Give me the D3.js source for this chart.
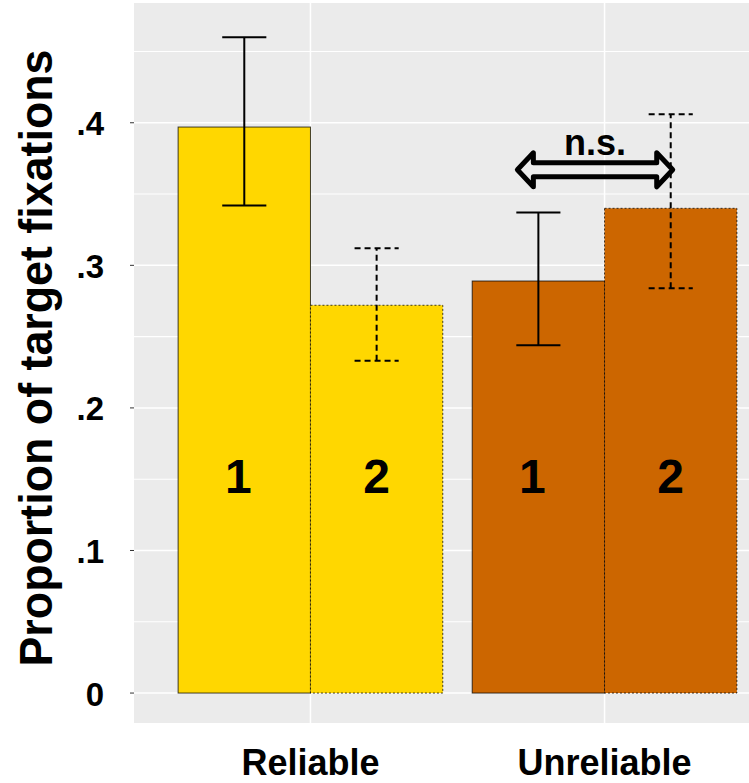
<!DOCTYPE html>
<html>
<head>
<meta charset="utf-8">
<script src="https://cdn.jsdelivr.net/npm/d3@7"></script>
<style>
  html, body { margin: 0; padding: 0; background: #fff; }
  text { font-family: "Liberation Sans", Arial, sans-serif; font-weight: bold; fill: #000; }
</style>
</head>
<body>
<svg id="chart" width="749" height="783"></svg>
<script>
// data
const groups    = ["Reliable", "Unreliable"];
const sessions  = ["1", "2"];
const means     = [[0.397, 0.272], [0.289, 0.340]];
const errLow    = [[0.342, 0.233], [0.244, 0.284]];
const errHigh   = [[0.460, 0.312], [0.337, 0.406]];
const groupFill = ["#FFD700", "#CC6600"];
const yTicks    = [0, 0.1, 0.2, 0.3, 0.4];
const yTickLab  = ["0", ".1", ".2", ".3", ".4"];
const yMinor    = [0.05, 0.15, 0.25, 0.35, 0.45];
const nsLabel   = "n.s.";
const nsY       = 0.367;

const svg = d3.select("#chart");
const panel = { left: 134, right: 781, top: 3, bottom: 723 };

const x = d3.scaleBand().domain(groups)
  .range([panel.left, panel.right]).paddingInner(0).paddingOuter(0.1);
const xs = d3.scaleBand().domain(sessions)
  .range([0, x.bandwidth()]).paddingInner(0).paddingOuter(0.1111);
const y = d3.scaleLinear().domain([-0.021, 0.484]).range([panel.bottom, panel.top]);

// panel background
svg.append("rect")
  .attr("x", panel.left).attr("y", panel.top)
  .attr("width", panel.right - panel.left).attr("height", panel.bottom - panel.top)
  .attr("fill", "#EBEBEB");

// grid
const grid = svg.append("g");
grid.selectAll("line.minor").data(yMinor).join("line")
  .attr("x1", panel.left).attr("x2", panel.right)
  .attr("y1", d => y(d)).attr("y2", d => y(d))
  .attr("stroke", "#fff").attr("stroke-width", 1.1);
grid.selectAll("line.major").data(yTicks).join("line")
  .attr("x1", panel.left).attr("x2", panel.right)
  .attr("y1", d => y(d)).attr("y2", d => y(d))
  .attr("stroke", "#fff").attr("stroke-width", 1.5);
grid.selectAll("line.vmajor").data(groups).join("line")
  .attr("x1", d => x(d) + x.bandwidth() / 2).attr("x2", d => x(d) + x.bandwidth() / 2)
  .attr("y1", panel.top).attr("y2", panel.bottom)
  .attr("stroke", "#fff").attr("stroke-width", 1.5);

// flatten
const rows = [];
groups.forEach((g, gi) => sessions.forEach((s, si) => rows.push({
  g, s, gi, si, v: means[gi][si], lo: errLow[gi][si], hi: errHigh[gi][si]
})));
const cx = d => x(d.g) + xs(d.s) + xs.bandwidth() / 2;

// bars
svg.append("g").selectAll("rect").data(rows).join("rect")
  .attr("x", d => x(d.g) + xs(d.s))
  .attr("y", d => y(d.v))
  .attr("width", xs.bandwidth())
  .attr("height", d => y(0) - y(d.v))
  .attr("fill", d => groupFill[d.gi])
  .attr("stroke", "rgba(0,0,0,0.75)")
  .attr("stroke-width", 1)
  .attr("stroke-dasharray", d => d.si === 1 ? "2,2" : null);

// error bars
const capW = xs.bandwidth() / 3;
const eb = svg.append("g").selectAll("g").data(rows).join("g")
  .attr("stroke", "#000").attr("stroke-width", 2)
  .attr("stroke-dasharray", d => d.si === 1 ? "6,4" : null);
eb.append("line")
  .attr("x1", cx).attr("x2", cx)
  .attr("y1", d => y(d.lo)).attr("y2", d => y(d.hi));
eb.append("line")
  .attr("x1", d => cx(d) - capW / 2).attr("x2", d => cx(d) + capW / 2)
  .attr("y1", d => y(d.hi)).attr("y2", d => y(d.hi));
eb.append("line")
  .attr("x1", d => cx(d) - capW / 2).attr("x2", d => cx(d) + capW / 2)
  .attr("y1", d => y(d.lo)).attr("y2", d => y(d.lo));

// session labels in bars
svg.append("g").selectAll("text").data(rows).join("text")
  .attr("x", d => cx(d) - (d.si === 0 ? 6 : 0)).attr("y", y(0.14))
  .attr("text-anchor", "middle")
  .style("font-size", "48px")
  .text(d => d.s);

// y axis ticks + labels
const yax = svg.append("g");
yax.selectAll("line").data(yTicks).join("line")
  .attr("x1", panel.left - 4).attr("x2", panel.left)
  .attr("y1", d => y(d)).attr("y2", d => y(d))
  .attr("stroke", "#333").attr("stroke-width", 1);
yax.selectAll("text").data(yTicks).join("text")
  .attr("x", 104).attr("y", d => y(d))
  .attr("dy", "0.38em")
  .attr("text-anchor", "end")
  .style("font-size", "33px")
  .text((d, i) => yTickLab[i]);

// y title
svg.append("text")
  .attr("transform", "translate(52,358) rotate(-90)")
  .attr("text-anchor", "middle")
  .attr("textLength", 617).attr("lengthAdjust", "spacingAndGlyphs")
  .style("font-size", "46px")
  .text("Proportion of target fixations");

// group labels
svg.append("g").selectAll("text").data(groups).join("text")
  .attr("x", d => x(d) + x.bandwidth() / 2).attr("y", 775)
  .attr("text-anchor", "middle")
  .style("font-size", "36px")
  .text(d => d);

// n.s. double arrow between Unreliable bars
const u1 = rows.find(r => r.gi === 1 && r.si === 0);
const u2 = rows.find(r => r.gi === 1 && r.si === 1);
const xl = cx(u1) - 21, xr = cx(u2) + 2, ya = y(nsY);
const head = 16, shaft = 7, hw = 17;
const arrowPts = [
  [xl, ya], [xl + head, ya - hw], [xl + head, ya - shaft], [xr - head, ya - shaft],
  [xr - head, ya - hw], [xr, ya], [xr - head, ya + hw], [xr - head, ya + shaft],
  [xl + head, ya + shaft], [xl + head, ya + hw]
];
svg.append("path")
  .attr("d", d3.line()(arrowPts) + "Z")
  .attr("fill", "none").attr("stroke", "#000")
  .attr("stroke-width", 5).attr("stroke-linejoin", "round");
svg.append("text")
  .attr("x", (xl + xr) / 2).attr("y", ya - 15)
  .attr("text-anchor", "middle")
  .style("font-size", "36px")
  .text(nsLabel);
</script>
</body>
</html>
